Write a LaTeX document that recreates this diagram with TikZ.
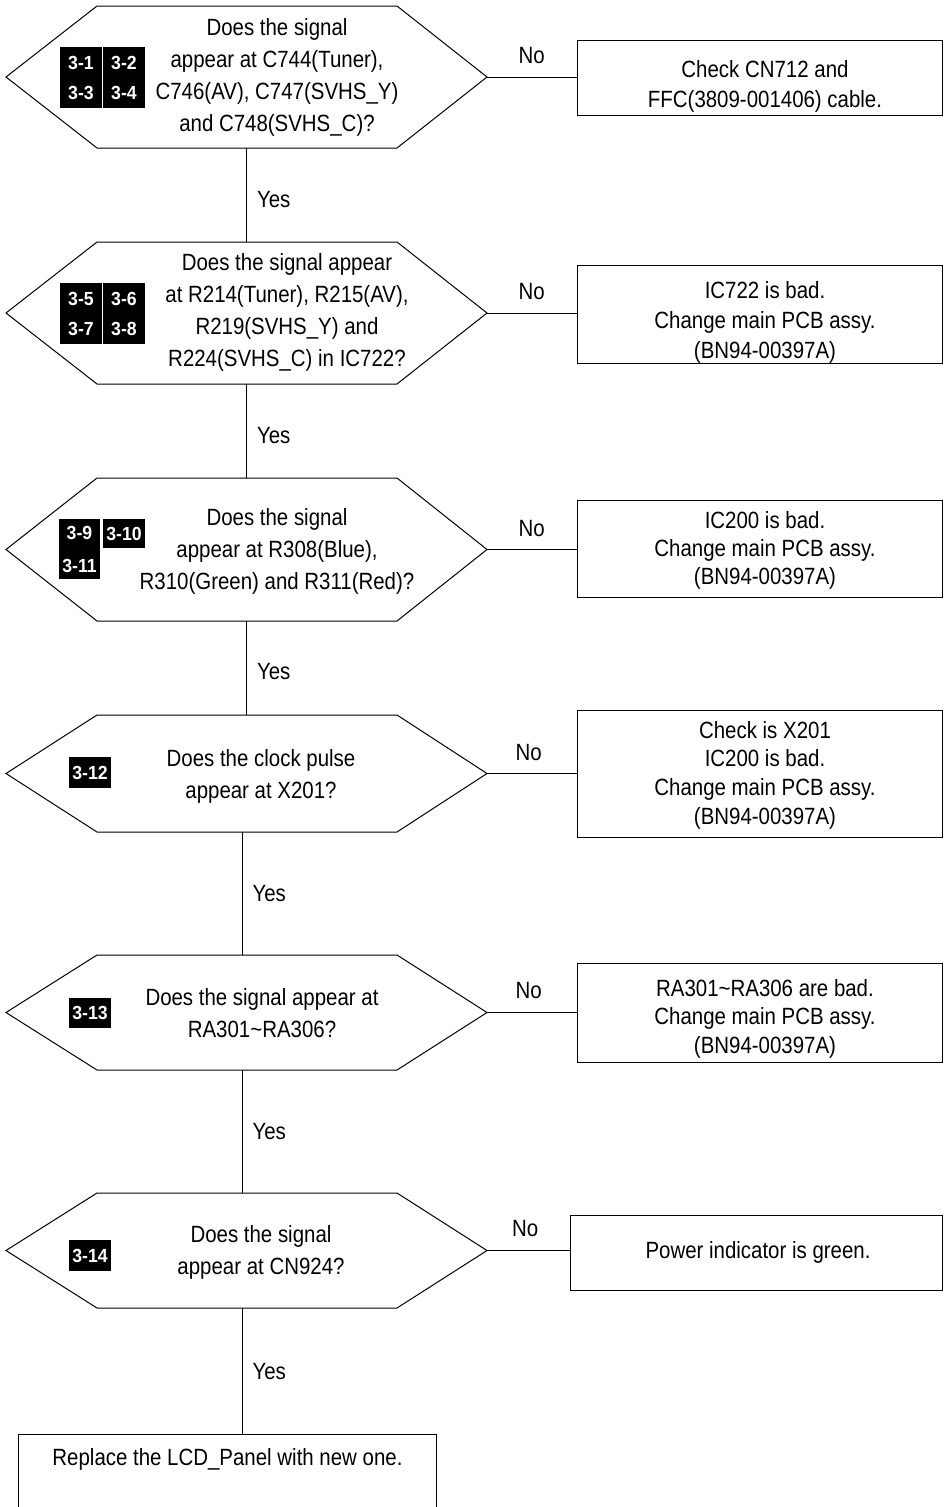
\documentclass[tikz,border=0pt]{standalone}
\usepackage{fontspec}
\setmainfont{Liberation Sans}[FakeStretch=0.87]
\newfontfamily\tagfont{Liberation Sans}[FakeStretch=0.93]
\begin{document}
\begin{tikzpicture}[x=1pt,y=-1pt,
  conn/.style={line width=1pt},
  hexframe/.style={minimum width=481pt, minimum height=#1, inner sep=0pt, outer sep=0pt},
  qtext/.style={align=center, inner sep=0pt, font=\fontsize{23.5}{32}\selectfont},
  rtext/.style={align=center, inner sep=0pt, font=\fontsize{23.5}{#1}\selectfont},
  resbox/.style={draw, line width=1pt, inner sep=0pt, minimum width=365pt, minimum height=#1},
  tag/.style={fill=black, text=white, align=center, inner sep=0pt, minimum width=42pt,
              font=\tagfont\bfseries\fontsize{19}{30}\selectfont},
  lbl/.style={inner sep=0pt, font=\fontsize{23.5}{28}\selectfont}
]
\useasboundingbox[fill=white] (0,0) rectangle (943,1507);

% decision frames
\node[hexframe=142pt] (h1) at (246.5,77) {};
\node[hexframe=142pt] (h2) at (246.5,313) {};
\node[hexframe=143pt] (h3) at (246.5,549.5) {};
\node[hexframe=117pt] (h4) at (246.5,773.5) {};
\node[hexframe=115pt] (h5) at (246.5,1012.5) {};
\node[hexframe=115pt] (h6) at (246.5,1250.5) {};
\foreach \h in {h1,h2,h3,h4,h5,h6}
  \draw[conn] (\h.west) -- ([xshift=91pt]\h.north west) -- ([xshift=-90pt]\h.north east)
     -- (\h.east) -- ([xshift=-90pt]\h.south east) -- ([xshift=91pt]\h.south west) -- cycle;

% questions
\node[qtext] (q1) at (277,77) {Does the signal\\appear at C744(Tuner),\\C746(AV), C747(SVHS\_Y)\\and C748(SVHS\_C)?};
\node[qtext] (q2) at (287,312) {Does the signal appear\\at R214(Tuner), R215(AV),\\R219(SVHS\_Y) and\\R224(SVHS\_C) in IC722?};
\node[qtext] (q3) at (277,551) {Does the signal\\appear at R308(Blue),\\R310(Green) and R311(Red)?};
\node[qtext] (q4) at (261,776) {Does the clock pulse\\appear at X201?};
\node[qtext] (q5) at (262,1013) {Does the signal appear at\\RA301\textasciitilde RA306?};
\node[qtext] (q6) at (261,1252) {Does the signal\\appear at CN924?};

% tags
\node[tag, minimum height=61pt] (g1a) at (81,77.5) {3-1\\3-3};
\node[tag, minimum height=61pt] (g1b) at (124,77.5) {3-2\\3-4};
\node[tag, minimum height=61pt] (g2a) at (81,313.5) {3-5\\3-7};
\node[tag, minimum height=61pt] (g2b) at (124,313.5) {3-6\\3-8};
\node[tag, minimum width=41pt, minimum height=60pt, font=\tagfont\bfseries\fontsize{19}{33}\selectfont] (g3a) at (79.5,549) {3-9\\3-11};
\node[tag, minimum height=29pt] (g3b) at (124,533.5) {3-10};
\node[tag, minimum height=31pt] (g4) at (90,772.5) {3-12};
\node[tag, minimum height=30pt] (g5) at (90,1013) {3-13};
\node[tag, minimum height=31pt] (g6) at (90,1255.5) {3-14};

% result boxes
\node[resbox=75pt] (r1) at (759.5,77.5) {};
\node[resbox=98pt] (r2) at (759.5,314) {};
\node[resbox=97pt] (r3) at (759.5,548.5) {};
\node[resbox=127pt] (r4) at (759.5,773.5) {};
\node[resbox=99pt] (r5) at (759.5,1012.5) {};
\node[resbox=75pt, minimum width=372pt] (r6) at (756,1252.5) {};
\node[rtext=30] (s1) at (765,86) {Check CN712 and\\FFC(3809-001406) cable.};
\node[rtext=30] (s2) at (765,322) {IC722 is bad.\\Change main PCB assy.\\(BN94-00397A)};
\node[rtext=28] (s3) at (765,550) {IC200 is bad.\\Change main PCB assy.\\(BN94-00397A)};
\node[rtext=28.7] (s4) at (765,775) {Check is X201\\IC200 is bad.\\Change main PCB assy.\\(BN94-00397A)};
\node[rtext=28.5] (s5) at (765,1018.5) {RA301\textasciitilde RA306 are bad.\\Change main PCB assy.\\(BN94-00397A)};
\node[rtext=30] (s6) at (758,1252) {Power indicator is green.};

% final box (open at the bottom edge of the picture)
\node[inner sep=0pt, minimum width=417pt, minimum height=48pt, font=\fontsize{23.5}{30}\selectfont] (fin) at (227.5,1459) {Replace the LCD\_Panel with new one.};
\draw[conn] ([yshift=-80pt]fin.south west) -- (fin.north west) -- (fin.north east) -- ([yshift=-80pt]fin.south east);
\coordinate (h6out) at ([xshift=-4.5pt]h6.south);
\coordinate (finin) at (h6out |- fin.north);

% No connectors
\draw[conn] (h1.east) -- node[lbl, yshift=21pt]{No} (h1.east -| r1.west);
\draw[conn] (h2.east) -- node[lbl, yshift=21pt]{No} (h2.east -| r2.west);
\draw[conn] (h3.east) -- node[lbl, yshift=21pt]{No} (h3.east -| r3.west);
\draw[conn] (h4.east) -- node[lbl, yshift=21pt, xshift=-3pt]{No} (h4.east -| r4.west);
\draw[conn] (h5.east) -- node[lbl, yshift=22pt, xshift=-3pt]{No} (h5.east -| r5.west);
\draw[conn] (h6.east) -- node[lbl, yshift=22pt, xshift=-3pt]{No} (h6.east -| r6.west);

% Yes connectors
\draw[conn] (h1.south) -- node[lbl, right=10pt, yshift=-5pt]{Yes} (h2.north);
\draw[conn] (h2.south) -- node[lbl, right=10pt, yshift=-5pt]{Yes} (h3.north);
\draw[conn] (h3.south) -- node[lbl, right=10pt, yshift=-4pt]{Yes} (h4.north);
\draw[conn] ([xshift=-4.5pt]h4.south) -- node[lbl, right=10pt]{Yes} ([xshift=-4.5pt]h5.north);
\draw[conn] ([xshift=-4.5pt]h5.south) -- node[lbl, right=10pt]{Yes} ([xshift=-4.5pt]h6.north);
\draw[conn] (h6out) -- node[lbl, right=10pt]{Yes} (finin);
\end{tikzpicture}
\end{document}
